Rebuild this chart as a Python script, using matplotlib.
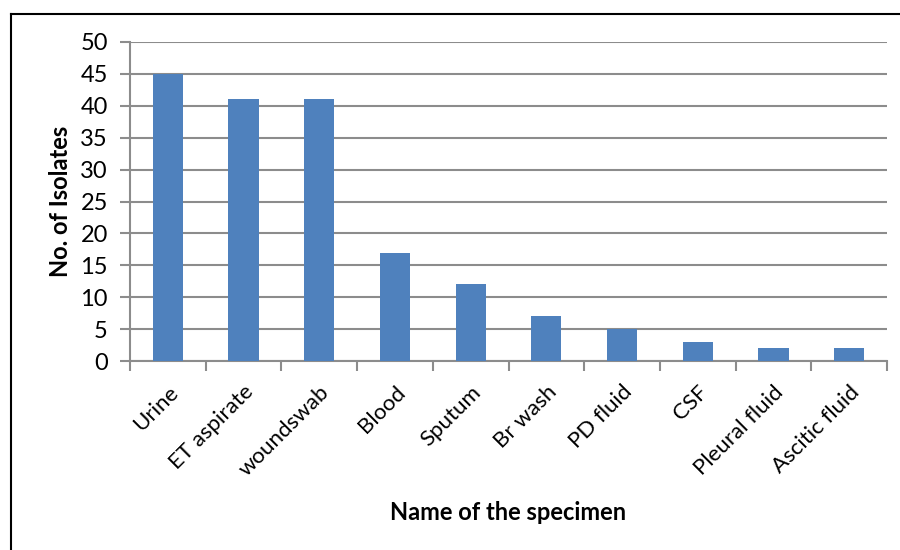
import matplotlib
matplotlib.use("Agg")
import matplotlib.pyplot as plt
from matplotlib.lines import Line2D
from matplotlib.transforms import ScaledTranslation
import numpy as np

categories = ["Urine", "ET aspirate", "woundswab", "Blood", "Sputum",
              "Br wash", "PD fluid", "CSF", "Pleural fluid", "Ascitic fluid"]
isolates = [45, 41, 41, 17, 12, 7, 5, 3, 2, 2]
y_ticks = [0, 5, 10, 15, 20, 25, 30, 35, 40, 45, 50]

plt.rcParams["font.family"] = ["Lato", "DejaVu Sans"]

fig = plt.figure(figsize=(9, 5.5), dpi=100)
ax = fig.add_axes([130 / 900, 1 - 361 / 550, (887 - 130) / 900, (361 - 42) / 550])

grid_col = "#8c8c8c"
bar_col = "#4f81bd"

x = np.arange(len(categories))
ax.bar(x, isolates, width=0.4, color=bar_col, zorder=3)

ax.set_xlim(-0.5, len(categories) - 0.5)
ax.set_ylim(0, 50)
ax.set_yticks(y_ticks)
ax.set_yticklabels([str(v) for v in y_ticks], fontsize=17)
ax.yaxis.grid(True, color=grid_col, linewidth=1.5, zorder=0)
ax.set_axisbelow(True)

ax.set_xticks(x)
ax.set_xticklabels(categories, rotation=45, ha="right", rotation_mode="anchor", fontsize=16)
shift = ScaledTranslation(6 / 100, 0, fig.dpi_scale_trans)
for lbl in ax.get_xticklabels():
    lbl.set_transform(lbl.get_transform() + shift)
ax.tick_params(axis="x", length=0, pad=15)
ax.set_xticks(np.arange(-0.5, len(categories)), minor=True)
ax.tick_params(axis="x", which="minor", length=7, width=1.5, color=grid_col, direction="out")
ax.tick_params(axis="y", length=7, width=1.5, color=grid_col, pad=9)

for side in ["top", "right"]:
    ax.spines[side].set_visible(False)
for side in ["left", "bottom"]:
    ax.spines[side].set_color(grid_col)
    ax.spines[side].set_linewidth(1.5)

ax.set_ylabel("No. of Isolates", fontsize=17, fontweight="bold", labelpad=6)
fig.text(508 / 900, 1 - 512 / 550, "Name of the specimen", fontsize=17,
         fontweight="bold", ha="center", va="center")

# outer chart frame
fig.add_artist(Line2D([11 / 900, 11 / 900], [0, 1 - 14 / 550], color="black",
                      linewidth=1.5, transform=fig.transFigure))
fig.add_artist(Line2D([11 / 900, 1], [1 - 14 / 550, 1 - 14 / 550], color="black",
                      linewidth=1.5, transform=fig.transFigure))

fig.savefig("out.png", dpi=100)
